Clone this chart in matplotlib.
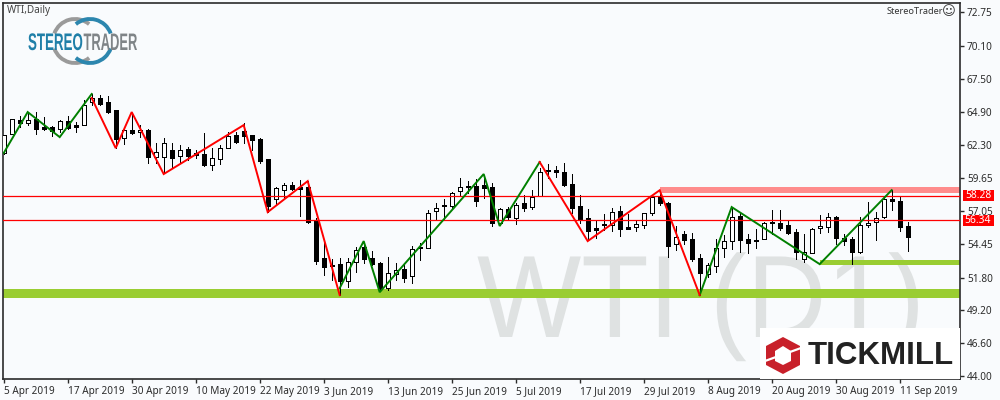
import matplotlib
matplotlib.use("Agg")
import matplotlib.pyplot as plt
from matplotlib.patches import Rectangle, Polygon, Arc
from matplotlib.patheffects import AbstractPathEffect
from matplotlib.transforms import Affine2D, blended_transform_factory

open_ = [61.64,63.14,64.25,64.05,64.33,63.70,63.70,63.54,64.17,63.85,63.85,65.67,65.99,65.67,65.04,62.83,63.46,63.30,63.46,61.32,61.32,61.88,61.40,61.96,61.64,61.56,60.69,61.16,62.03,63.06,63.38,63.06,62.75,61.16,58.00,58.71,59.11,58.95,58.95,56.34,53.33,52.80,52.86,51.52,53.02,54.20,53.33,52.94,50.96,52.07,52.46,51.91,54.20,54.13,57.05,57.53,57.45,58.63,59.03,59.03,59.11,58.95,56.10,57.21,56.50,57.68,57.37,58.24,60.29,60.29,60.14,59.19,57.45,56.50,55.71,56.02,55.94,57.05,55.79,55.79,55.94,56.89,58.16,57.68,54.44,55.23,54.84,53.33,52.07,52.70,54.13,54.68,56.66,54.84,54.76,54.84,56.18,56.10,55.94,55.39,53.26,53.73,55.71,55.79,56.58,54.92,54.84,53.81,55.94,56.18,56.58,58.00,57.84,55.87]
high = [63.06,64.33,64.57,64.80,64.88,64.49,63.77,64.25,64.57,64.09,65.83,66.31,66.23,66.15,65.04,63.62,64.80,63.85,63.54,62.43,62.83,62.43,62.27,62.11,61.88,63.22,62.03,62.27,63.30,63.30,64.01,63.06,62.83,61.16,58.95,59.27,59.35,59.50,59.42,56.50,54.52,53.26,53.33,53.33,54.20,54.60,53.89,53.02,53.41,52.94,52.94,54.28,54.52,57.13,57.68,58.00,58.55,59.66,59.42,59.58,59.90,59.27,57.29,57.37,57.68,58.32,58.71,60.45,60.77,60.61,60.85,59.98,58.32,57.21,56.26,56.81,57.29,57.45,56.81,56.34,56.89,58.32,58.63,57.76,55.87,55.47,55.31,53.65,52.94,54.84,55.15,57.37,56.97,55.23,55.63,56.18,57.13,57.13,56.34,55.63,55.23,55.71,56.74,56.89,56.66,55.23,55.00,56.58,57.76,56.97,58.08,58.71,58.16,56.18]
low = [61.56,63.14,63.70,63.85,63.14,63.46,62.98,63.30,63.54,63.30,63.85,65.44,65.44,64.80,62.03,62.35,63.14,62.90,60.85,60.85,60.06,60.53,60.93,61.09,61.24,60.61,60.29,60.77,62.03,62.43,62.43,61.88,60.85,56.97,57.53,58.00,58.71,56.66,56.10,52.86,51.99,51.59,50.41,51.04,52.23,52.94,52.78,50.80,50.80,51.59,51.44,51.36,53.18,54.13,56.34,56.34,57.29,58.32,58.48,57.45,58.08,55.87,55.94,56.34,56.02,57.05,57.21,58.24,59.66,59.74,59.03,56.89,56.10,54.76,54.92,55.55,55.47,55.07,55.63,55.47,55.71,56.74,57.53,53.41,53.97,54.44,53.10,50.41,51.83,52.23,53.41,54.05,53.81,53.73,54.13,54.84,55.23,55.55,55.23,53.26,53.02,53.73,55.31,55.39,54.44,54.36,52.86,53.73,55.79,54.76,56.50,57.13,55.47,53.89]
close = [63.06,64.33,64.01,64.29,63.54,63.54,63.38,64.17,63.62,63.70,65.44,65.99,65.51,64.88,62.75,63.46,63.22,63.46,61.32,61.72,62.43,61.24,61.88,61.40,61.48,60.69,61.24,62.03,62.98,62.51,62.98,62.67,61.01,57.45,58.87,59.11,58.79,58.79,56.18,53.10,52.62,52.70,51.52,53.02,53.97,53.26,52.86,50.96,52.15,52.39,51.75,54.05,54.13,56.89,57.29,57.45,58.48,58.95,58.95,57.84,58.87,56.10,57.21,56.58,57.53,57.29,58.16,60.14,60.22,60.14,59.11,57.29,56.42,55.47,55.55,55.94,56.97,55.63,55.63,56.02,56.89,58.16,57.68,54.28,55.00,54.76,53.26,52.15,52.78,54.13,54.68,56.58,54.76,54.52,54.68,56.10,56.10,55.71,55.31,53.81,53.81,55.63,55.87,56.58,54.92,54.68,53.81,55.94,56.10,56.50,58.00,57.84,55.79,55.00]

green_legs = [
    ([0, 3, 7, 11], [61.64, 64.88, 62.90, 66.31]),
    ([42, 45, 47, 60, 62, 67], [50.96, 54.68, 50.64, 59.98, 55.87, 60.93]),
    ([87, 91, 102, 111], [50.41, 57.37, 52.86, 58.71]),
]
red_legs = [
    ([11, 14, 16, 20, 30, 33, 38, 42], [65.99, 62.03, 64.88, 59.98, 63.85, 56.97, 59.42, 50.41]),
    ([67, 73, 82, 87], [60.93, 54.68, 58.70, 50.41]),
]
levels = [58.28, 56.34]
y_ticks = [72.75, 70.10, 67.50, 64.90, 62.30, 59.65, 57.05, 54.45, 51.80, 49.20, 46.60, 44.00]
x_labels = ["5 Apr 2019", "17 Apr 2019", "30 Apr 2019", "10 May 2019", "22 May 2019", "3 Jun 2019",
            "13 Jun 2019", "25 Jun 2019", "5 Jul 2019", "17 Jul 2019", "29 Jul 2019", "8 Aug 2019",
            "20 Aug 2019", "30 Aug 2019", "11 Sep 2019"]

BG = "#F9FBFD"
INK = "#2B2B2B"
FONT = ["Noto Sans", "DejaVu Sans"]


class Stretch(AbstractPathEffect):
    """Scale a text's glyphs about its baseline, for the tall narrow logo lettering."""

    def __init__(self, sy, y0):
        super().__init__()
        self.sy, self.y0 = sy, y0

    def draw_path(self, renderer, gc, tpath, affine, rgbFace=None):
        a = affine + Affine2D().translate(0, -self.y0).scale(1, self.sy).translate(0, self.y0)
        renderer.draw_path(gc, tpath, a, rgbFace)


fig = plt.figure(figsize=(10, 4), dpi=100, facecolor=BG)
ax = fig.add_axes([0.003, 21 / 400, 0.957, 376 / 400], facecolor=BG)
ax.set_xlim(-0.0875, 119.54)
ax.set_ylim(43.78, 73.50)
for s in ax.spines.values():
    s.set_color(INK)
    s.set_linewidth(1.2)

# pixel coordinates, origin at the top left of the picture
px = Affine2D().scale(1, -1).translate(0, 400)

# watermark
wm = ax.text(477, 337, "WTI (D1)", transform=px, fontsize=79.5, family="Liberation Sans",
             color="#DFE2E2", zorder=1, va="baseline", ha="left",
             path_effects=[Stretch(1.06, 400 - 337)])
wm.set_clip_on(True)

# zones
ax.axhspan(50.17, 50.88, color="#9ACD32", lw=0, zorder=2)
ax.fill_between([102, 119.54], 52.78, 53.18, color="#9ACD32", lw=0, zorder=2)
ax.fill_between([82, 119.54], 58.48, 58.95, color="#FF8C8C", lw=0, zorder=2)

# candles
idx = list(range(len(open_)))
ax.vlines(idx, low, high, color="black", lw=0.72, zorder=3, antialiased=False)
for i in idx:
    b, t = min(open_[i], close[i]), max(open_[i], close[i])
    up = close[i] >= open_[i]
    ax.bar(i, t - b, bottom=b, width=0.52, facecolor="white" if up else "black",
           edgecolor="black", linewidth=0.72, zorder=3.5, antialiased=False)

# levels
for lv in levels:
    ax.axhline(lv, color="#FF0000", lw=0.9, zorder=4)

# zigzag
for xs, ys in green_legs:
    ax.plot(xs, ys, color="#008000", lw=1.4, zorder=5, solid_joinstyle="miter")
for xs, ys in red_legs:
    ax.plot(xs, ys, color="#FF0000", lw=1.4, zorder=5, solid_joinstyle="miter")

# axes ticks
ax.yaxis.tick_right()
ax.set_yticks(y_ticks)
ax.set_yticklabels([f"{v:.2f}" for v in y_ticks], fontsize=7.2, color=INK, family=FONT)
ax.tick_params(axis="y", length=3, width=1, color=INK, pad=2)
ax.set_xticks([8 * k for k in range(len(x_labels))])
ax.set_xticklabels(x_labels, fontsize=7.2, color=INK, family=FONT, ha="left")
ax.tick_params(axis="x", length=3, width=1, color=INK, pad=2)

# price tags
bt = blended_transform_factory(fig.transFigure, ax.transData)
for lv in levels:
    ax.add_patch(Rectangle((0.9625, lv - 0.44), 0.031, 0.88, transform=bt, facecolor="#FF0000",
                           edgecolor="none", clip_on=False, zorder=8))
    ax.text(0.978, lv, f"{lv:.2f}", transform=bt, color="white", fontsize=7.4, family=FONT,
            ha="center", va="center", zorder=9, clip_on=False)

# corner captions
ax.text(7, 11, "WTI,Daily", transform=px, fontsize=7.2, color="#444444", family=FONT, va="center")
ax.text(943, 12, "StereoTrader", transform=px, fontsize=6.6, color="#333333", family=FONT,
        va="center", ha="right", zorder=9)
ax.text(949, 12, "\u263A", transform=px, fontsize=9.5, color="#333333", family="DejaVu Sans",
        va="center", ha="center", zorder=9)

# StereoTrader logo
for cx, col, arcs in ((75, "#9A9A9A", ((200, 310), (50, 160))), (90, "#2C86AE", ((230, 340), (20, 130)))):
    for t1, t2 in arcs:
        ax.add_patch(Arc((cx, 41), 44, 44, theta1=t1, theta2=t2, transform=px, color=col, lw=2.8, zorder=6))
ax.text(28, 50, "STEREO", transform=px, fontsize=9.6, fontweight="bold", family="Liberation Sans",
        color="#1F7FA8", va="baseline", ha="left", zorder=7, path_effects=[Stretch(1.8, 350)])
ax.text(83.5, 50, "TRADER", transform=px, fontsize=9.3, fontweight="bold", family="Liberation Sans",
        color="#7F8487", va="baseline", ha="left", zorder=7, path_effects=[Stretch(1.85, 350)])

# Tickmill logo
ax.add_patch(Rectangle((760, 328), 200, 51, transform=px, facecolor="white", edgecolor="none", zorder=6))
ax.add_patch(Polygon([(783, 337), (800, 346), (800, 365), (783, 374), (766, 365), (766, 346)], closed=True,
                     transform=px, facecolor="#C8202A", edgecolor="none", zorder=7))
ax.add_patch(Polygon([(783, 346), (791, 351), (791, 361), (783, 365), (775, 361), (775, 351)], closed=True,
                     transform=px, facecolor="white", edgecolor="none", zorder=7.2))
for a, b in (((765, 361), (776, 357)), ((790, 352), (801, 348))):
    ax.plot([a[0], b[0]], [a[1], b[1]], transform=px, color="white", lw=1.6, zorder=7.3)
ax.text(808, 356, "TICKMILL", transform=px, fontsize=22.5, fontweight="bold", family="Liberation Sans",
        color="#222222", va="center", ha="left", zorder=7)

fig.savefig("out.png", dpi=100, facecolor=BG)
